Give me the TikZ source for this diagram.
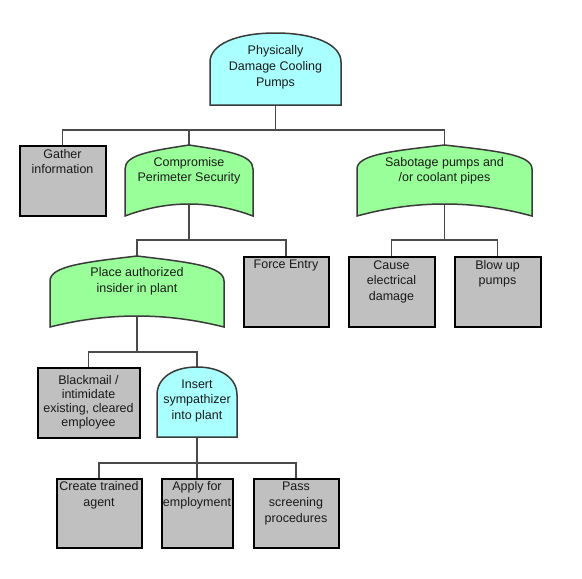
\documentclass[tikz,border=0pt]{standalone}
\usepackage{fontspec}
\setmainfont{Liberation Sans}
\usetikzlibrary{backgrounds}
\definecolor{boxgray}{HTML}{C0C0C0}
\definecolor{gatecyan}{HTML}{AAFFFF}
\definecolor{gategreen}{HTML}{99FF99}
\definecolor{gatec}{HTML}{3A3A3A}
\definecolor{connc}{HTML}{4A4A4A}
\definecolor{txtc}{HTML}{1A1A1A}
\newcommand\mystrut{\rule[-3pt]{0pt}{12pt}}
% OR gate: name, fill, L, R, P(peak), S(shoulder), B(bottom corners), Bc(bottom centre)
\newcommand\orgate[8]{%
  \pgfmathsetmacro\gC{(#3+#4)/2}%
  \pgfmathsetmacro\gW{(#4-#3)/2}%
  \pgfmathsetmacro\gh{#6-#5}%
  \pgfmathsetmacro\gcy{#7-4/3*(#7-#8)}%
  \draw[gatel, fill=#2] (#3,#7) -- (#3,#6)
    .. controls (#3,{#6-0.6*\gh}) and ({\gC-0.6*\gW},{#5+0.25*\gh}) .. (\gC,#5)
    .. controls ({\gC+0.6*\gW},{#5+0.25*\gh}) and (#4,{#6-0.6*\gh}) .. (#4,#6)
    -- (#4,#7)
    .. controls ({#4-0.667*\gW},\gcy) and ({#3+0.667*\gW},\gcy) .. (#3,#7) -- cycle;
  \coordinate (#1-in) at (\gC,#5);
  \coordinate (#1-out) at (\gC,#8);
}
% AND gate: name, fill, L, R, T(top), S(shoulder), B(bottom)
\newcommand\andgate[7]{%
  \pgfmathsetmacro\gC{(#3+#4)/2}%
  \pgfmathsetmacro\gW{(#4-#3)/2}%
  \pgfmathsetmacro\gh{#6-#5}%
  \draw[gatel, fill=#2] (#3,#7) -- (#3,#6)
    .. controls (#3,{#6-0.6*\gh}) and ({\gC-0.6*\gW},#5) .. (\gC,#5)
    .. controls ({\gC+0.6*\gW},#5) and (#4,{#6-0.6*\gh}) .. (#4,#6)
    -- (#4,#7) -- cycle;
  \coordinate (#1-in) at (\gC,#5);
  \coordinate (#1-out) at (\gC,#7);
}
\begin{document}
\begin{tikzpicture}[x=1pt,y=-1pt,
  conn/.style={draw=connc, line width=1.2pt},
  box/.style={draw=black, line width=2pt, fill=boxgray, inner sep=0pt},
  gatel/.style={draw=gatec, line width=1.5pt},
  lbl/.style={inner sep=0pt, align=center, text=txtc,
    font=\fontsize{12.5}{15.8}\selectfont,
    execute at begin node=\mystrut, execute at end node=\mystrut}]
\useasboundingbox (0,0) rectangle (582,579);

% gates
\andgate{top}{gatecyan}{210}{341}{33}{62}{105}
\orgate{comp}{gategreen}{125}{253}{145}{169}{216}{204}
\orgate{sab}{gategreen}{357}{532}{145}{169}{216}{204}
\orgate{place}{gategreen}{50}{224}{256}{281}{327}{316}
\andgate{ins}{gatecyan}{157}{237}{367}{395}{437}

% boxes
\node[box, minimum width=86pt, minimum height=70pt] (gather) at (62.5,180.5) {};
\node[box, minimum width=85pt, minimum height=70pt] (force) at (286,291.5) {};
\node[box, minimum width=86pt, minimum height=70pt] (cause) at (391.5,291.5) {};
\node[box, minimum width=86pt, minimum height=70pt] (blow) at (497.5,291.5) {};
\node[box, minimum width=102pt, minimum height=70pt] (black) at (88.5,402.5) {};
\node[box, minimum width=85pt, minimum height=69pt] (create) at (99,513) {};
\node[box, minimum width=71pt, minimum height=69pt] (apply) at (197,513) {};
\node[box, minimum width=85pt, minimum height=69pt] (pass) at (296,513) {};

% labels
\node[lbl] (top-t) at (275.5,67.7) {Physically\\Damage Cooling\\Pumps};
\node[lbl] (gather-t) at (62.5,163) {Gather\\information};
\node[lbl] (comp-t) at (189,171) {Compromise\\Perimeter Security};
\node[lbl] (sab-t) at (444.5,171) {Sabotage pumps and\\/or coolant pipes};
\node[lbl] (place-t) at (137,281.5) {Place authorized\\insider in plant};
\node[lbl] (force-t) at (286,265) {Force Entry};
\node[lbl] (cause-t) at (391.5,282) {Cause\\electrical\\damage};
\node[lbl] (blow-t) at (497.5,274) {Blow up\\pumps};
\node[lbl, font=\fontsize{12.5}{13.8}\selectfont] (black-t) at (88.5,402.5) {Blackmail /\\intimidate\\existing, cleared\\employee};
\node[lbl] (ins-t) at (197,401) {Insert\\sympathizer\\into plant};
\node[lbl] (create-t) at (99,495.5) {Create trained\\agent};
\node[lbl] (apply-t) at (197,495.5) {Apply for\\employment};
\node[lbl] (pass-t) at (296,503.5) {Pass\\screening\\procedures};

% bus levels
\coordinate (b1) at (0,130);
\coordinate (b2) at (0,240);
\coordinate (b4) at (0,352);
\coordinate (b5) at (0,463);

\begin{pgfonlayer}{background}
\fill[white] (0,0) rectangle (582,579);
\draw[conn] (top-out) -- (top-out |- b1);
\draw[conn] (gather.north) -- (gather.north |- b1) -- (sab-in |- b1) -- (sab-in);
\draw[conn] (comp-in) -- (comp-in |- b1);
\draw[conn] (comp-out) -- (comp-out |- b2);
\draw[conn] (place-in) -- (place-in |- b2) -- (force.north |- b2) -- (force.north);
\draw[conn] (sab-out) -- (sab-out |- b2);
\draw[conn] (cause.north) -- (cause.north |- b2) -- (blow.north |- b2) -- (blow.north);
\draw[conn] (place-out) -- (place-out |- b4);
\draw[conn] (black.north) -- (black.north |- b4) -- (ins-in |- b4) -- (ins-in);
\draw[conn] (ins-out) -- (ins-out |- b5);
\draw[conn] (create.north) -- (create.north |- b5) -- (pass.north |- b5) -- (pass.north);
\draw[conn] (apply.north) -- (apply.north |- b5);
\end{pgfonlayer}
\end{tikzpicture}
\end{document}
